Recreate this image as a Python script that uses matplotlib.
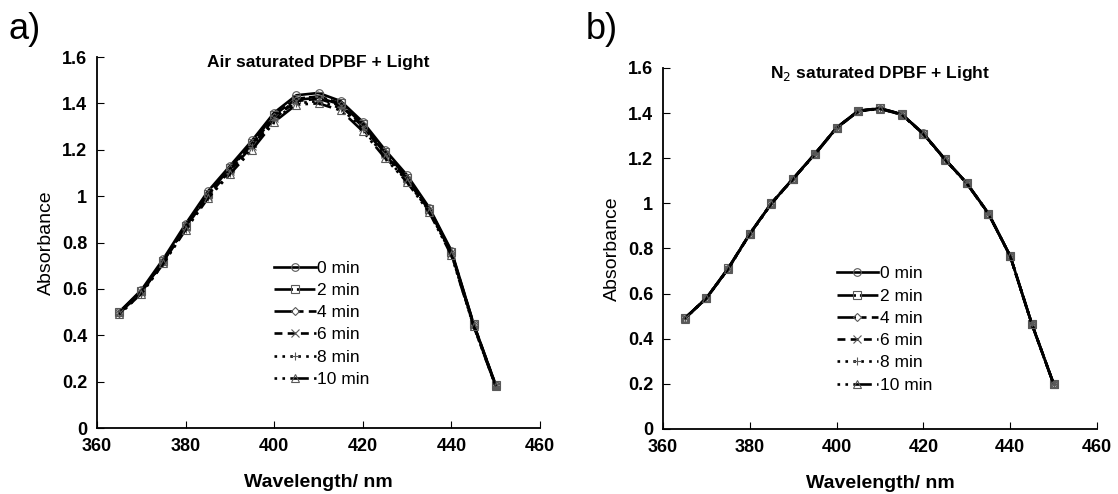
import matplotlib
matplotlib.use("Agg")
import matplotlib.pyplot as plt

plt.rcParams["font.family"] = ["Liberation Sans", "DejaVu Sans"]

wavelength = [365, 370, 375, 380, 385, 390, 395, 400, 405, 410,
              415, 420, 425, 430, 435, 440, 445, 450]
time_labels = ["0 min", "2 min", "4 min", "6 min", "8 min", "10 min"]

# Air saturated DPBF under illumination
air_0 = [0.500, 0.595, 0.730, 0.880, 1.020, 1.130, 1.240, 1.360, 1.435, 1.445,
         1.410, 1.320, 1.200, 1.090, 0.950, 0.765, 0.450, 0.185]
air_2 = [0.500, 0.590, 0.720, 0.870, 1.010, 1.120, 1.230, 1.350, 1.420, 1.430,
         1.400, 1.310, 1.190, 1.080, 0.945, 0.760, 0.450, 0.185]
air_4 = [0.495, 0.585, 0.720, 0.870, 1.005, 1.115, 1.225, 1.340, 1.415, 1.425,
         1.395, 1.305, 1.185, 1.075, 0.940, 0.755, 0.445, 0.185]
air_6 = [0.495, 0.585, 0.715, 0.865, 1.000, 1.110, 1.215, 1.335, 1.410, 1.420,
         1.390, 1.300, 1.180, 1.070, 0.940, 0.755, 0.445, 0.180]
air_8 = [0.490, 0.580, 0.710, 0.860, 0.995, 1.100, 1.210, 1.330, 1.400, 1.410,
         1.380, 1.290, 1.170, 1.065, 0.935, 0.750, 0.440, 0.180]
air_10 = [0.490, 0.580, 0.710, 0.855, 0.990, 1.095, 1.200, 1.320, 1.395, 1.400,
          1.370, 1.280, 1.165, 1.060, 0.930, 0.745, 0.440, 0.180]

# N2 saturated DPBF under illumination
n2_0 = [0.490, 0.580, 0.710, 0.865, 1.000, 1.110, 1.220, 1.335, 1.410, 1.420,
        1.395, 1.310, 1.195, 1.090, 0.955, 0.767, 0.465, 0.200]
n2_2 = [0.490, 0.580, 0.712, 0.865, 1.002, 1.110, 1.218, 1.335, 1.410, 1.422,
        1.395, 1.308, 1.195, 1.090, 0.955, 0.767, 0.466, 0.200]
n2_4 = [0.489, 0.579, 0.710, 0.864, 1.000, 1.109, 1.218, 1.334, 1.409, 1.420,
        1.394, 1.308, 1.194, 1.089, 0.954, 0.766, 0.465, 0.200]
n2_6 = [0.490, 0.580, 0.710, 0.865, 1.000, 1.110, 1.219, 1.335, 1.410, 1.421,
        1.395, 1.309, 1.195, 1.090, 0.955, 0.767, 0.465, 0.201]
n2_8 = [0.489, 0.579, 0.709, 0.864, 0.999, 1.109, 1.218, 1.334, 1.409, 1.420,
        1.394, 1.308, 1.194, 1.089, 0.954, 0.766, 0.464, 0.200]
n2_10 = [0.489, 0.579, 0.709, 0.863, 0.999, 1.108, 1.217, 1.333, 1.408, 1.419,
         1.393, 1.307, 1.193, 1.088, 0.953, 0.766, 0.464, 0.199]

air_series = [air_0, air_2, air_4, air_6, air_8, air_10]
n2_series = [n2_0, n2_2, n2_4, n2_6, n2_8, n2_10]

styles = [
    dict(linestyle="-", marker="o"),
    dict(linestyle=(0, (7, 1.5)), marker="s"),
    dict(linestyle=(0, (7, 2, 2, 2)), marker="D", markersize=4.2),
    dict(linestyle=(0, (3, 2)), marker="x"),
    dict(linestyle=(0, (1, 2)), marker="+"),
    dict(linestyle=(0, (1, 2, 1, 2, 7, 2)), marker="^"),
]

fig = plt.figure(figsize=(11.18, 4.94), dpi=100)
ax_a = fig.add_axes([0.0868, 0.1336, 0.3962, 0.751])
ax_b = fig.add_axes([0.593, 0.1316, 0.3882, 0.7308])


def draw_panel(ax, series, title):
    for vals, lab, st in zip(series, time_labels, styles):
        kw = dict(color="black", lw=1.9, markersize=5.5, mfc="none",
                  mec="0.35", mew=0.8)
        kw.update(st)
        ax.plot(wavelength, vals, label=lab, **kw)
    ax.set_xlim(360, 460)
    ax.set_ylim(0, 1.6)
    ax.set_xticks([360, 380, 400, 420, 440, 460])
    ax.set_yticks([0, 0.2, 0.4, 0.6, 0.8, 1.0, 1.2, 1.4, 1.6])
    ax.set_yticklabels(["0", "0.2", "0.4", "0.6", "0.8", "1", "1.2", "1.4", "1.6"])
    for s in ("top", "right"):
        ax.spines[s].set_visible(False)
    for s in ("left", "bottom"):
        ax.spines[s].set_linewidth(1.3)
    ax.tick_params(direction="in", length=5, width=0.8, labelsize=13, pad=7)
    for t in ax.get_xticklabels() + ax.get_yticklabels():
        t.set_fontweight("bold")
    ax.set_xlabel("Wavelength/ nm", fontsize=14, fontweight="bold", labelpad=14)
    ax.set_ylabel("Absorbance", fontsize=14, labelpad=5)
    ax.text(0.5, 0.985, title, transform=ax.transAxes, ha="center", va="center",
            fontsize=12.5, fontweight="bold")
    ax.legend(loc="upper left", bbox_to_anchor=(0.38, 0.475), frameon=False,
              fontsize=12.5, handlelength=2.4, handletextpad=0.1,
              labelspacing=0.41, borderpad=0, markerfirst=True)


draw_panel(ax_a, air_series, "Air saturated DPBF + Light")
draw_panel(ax_b, n2_series, r"N$_2$ saturated DPBF + Light")

fig.text(0.008, 0.94, "a)", fontsize=26, va="center", ha="left")
fig.text(0.524, 0.94, "b)", fontsize=26, va="center", ha="left")

fig.savefig("out.png", dpi=100)
